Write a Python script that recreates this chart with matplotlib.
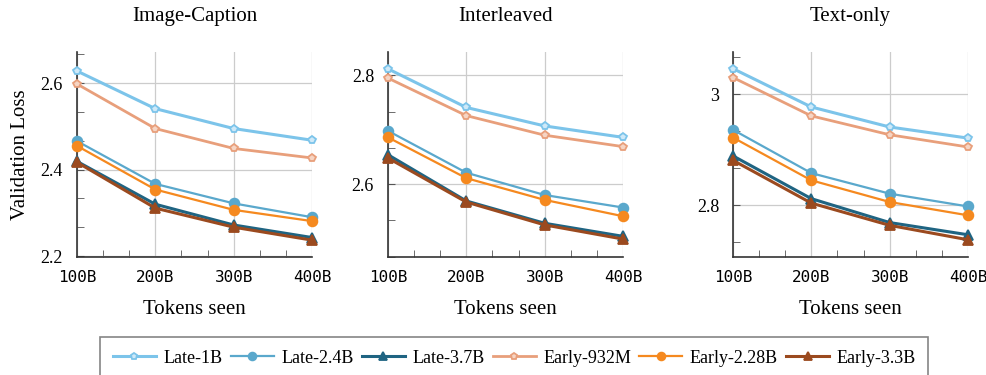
import matplotlib
matplotlib.use("Agg")
import matplotlib.pyplot as plt
from matplotlib.ticker import MultipleLocator, AutoMinorLocator

plt.rcParams['font.family'] = ['Liberation Serif', 'DejaVu Serif']

tokens = [100, 200, 300, 400]
tick_labels = ['100B', '200B', '300B', '400B']
titles = ['Image-Caption', 'Interleaved', 'Text-only']
series_names = ['Late-1B', 'Late-2.4B', 'Late-3.7B', 'Early-932M', 'Early-2.28B', 'Early-3.3B']

# validation loss per panel, one list per model
caption_loss = [
    [2.628, 2.541, 2.495, 2.468],
    [2.466, 2.367, 2.322, 2.290],
    [2.419, 2.320, 2.272, 2.243],
    [2.598, 2.495, 2.449, 2.427],
    [2.455, 2.354, 2.307, 2.281],
    [2.417, 2.311, 2.267, 2.237],
]
interleaved_loss = [
    [2.812, 2.741, 2.707, 2.686],
    [2.698, 2.621, 2.580, 2.557],
    [2.654, 2.569, 2.528, 2.504],
    [2.795, 2.726, 2.690, 2.669],
    [2.686, 2.611, 2.571, 2.541],
    [2.648, 2.567, 2.525, 2.499],
]
text_loss = [
    [3.046, 2.977, 2.941, 2.921],
    [2.936, 2.858, 2.821, 2.798],
    [2.889, 2.812, 2.769, 2.747],
    [3.030, 2.961, 2.927, 2.905],
    [2.922, 2.845, 2.806, 2.782],
    [2.881, 2.804, 2.764, 2.738],
]
panel_data = [caption_loss, interleaved_loss, text_loss]
ylims = [(2.198, 2.672), (2.466, 2.843), (2.707, 3.076)]

colors = ['#7cc4ea', '#5aa8cc', '#1f6482', '#e89f7b', '#f5891f', '#9b4a1f']
faces = ['#cfe9f8', '#5aa8cc', '#1f6482', '#f6d5c4', '#f5891f', '#9b4a1f']
markers = ['p', 'o', '^', 'p', 'o', '^']
msizes = [6, 7, 7, 6, 7, 7]
lwidths = [2.2, 1.6, 2.2, 2.0, 1.6, 2.2]

fig = plt.figure(figsize=(9.87, 3.75), dpi=100)
lefts = [77, 388, 733]
w = 235 / 987
b = 1 - 257 / 375
h = (257 - 52) / 375

handles = []
for k in range(3):
    ax = fig.add_axes([lefts[k] / 987, b, w, h])
    for i, name in enumerate(series_names):
        ln, = ax.plot(tokens, panel_data[k][i], color=colors[i], lw=lwidths[i],
                      marker=markers[i], ms=msizes[i], mfc=faces[i], mec=colors[i],
                      mew=1.3, label=name, clip_on=False, zorder=3)
        if k == 0:
            handles.append(ln)
    ax.set_xlim(100, 400)
    ax.set_ylim(*ylims[k])
    ax.set_xticks(tokens)
    ax.set_xticklabels(tick_labels, fontfamily='DejaVu Sans Mono', fontsize=11.5)
    ax.yaxis.set_major_locator(MultipleLocator(0.2))
    ax.yaxis.set_minor_locator(AutoMinorLocator(3))
    ax.xaxis.set_minor_locator(AutoMinorLocator(3))
    ax.yaxis.set_major_formatter(plt.FuncFormatter(lambda v, p: ('%g' % round(v, 2))))
    ax.tick_params(axis='y', labelsize=13, direction='in', length=5, color='#555555', pad=10)
    ax.tick_params(axis='x', direction='in', length=0, pad=9)
    ax.tick_params(which='minor', direction='in', length=5, color='#555555')
    ax.grid(True, which='major', color='#cccccc', lw=0.9)
    ax.set_axisbelow(True)
    for s in ['top', 'right']:
        ax.spines[s].set_visible(False)
    ax.spines['left'].set_color('#333333')
    ax.spines['bottom'].set_color('#333333')
    ax.spines['left'].set_linewidth(1.2)
    ax.spines['bottom'].set_linewidth(1.2)
    ax.set_title(titles[k], fontsize=15, pad=22)
    ax.set_xlabel('Tokens seen', fontsize=15, labelpad=11)
    if k == 0:
        ax.set_ylabel('Validation Loss', fontsize=15, labelpad=8)

leg = fig.legend(handles=handles, loc='upper center', bbox_to_anchor=(0.521, 1 - 337 / 375),
                 ncol=6, fontsize=13, frameon=True, fancybox=False, handlelength=2.4,
                 columnspacing=0.45, handletextpad=0.4, borderpad=0.7, borderaxespad=0,
                 markerscale=0.8)
leg.get_frame().set_edgecolor('#666666')
leg.get_frame().set_linewidth(1.2)

fig.savefig('out.png', dpi=100)
